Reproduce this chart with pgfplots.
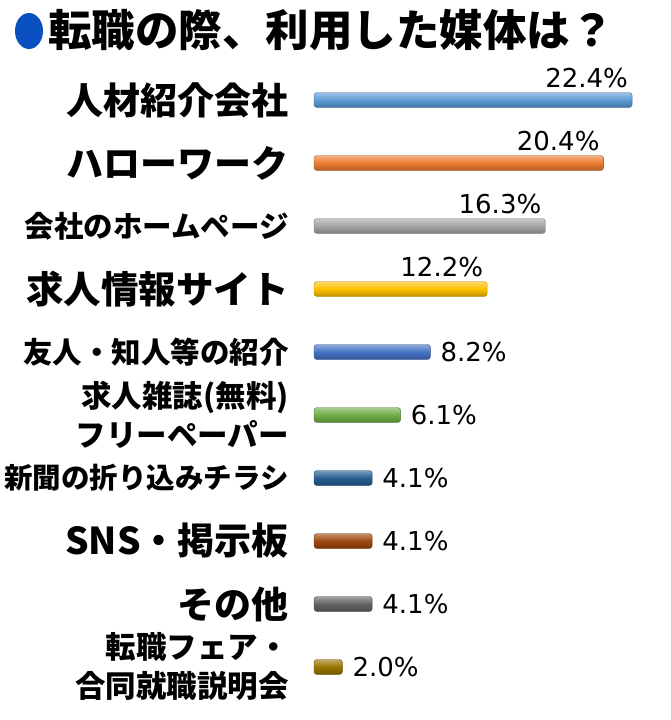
\documentclass[border=0pt]{standalone}
\usepackage{pgfplots}
\pgfplotsset{compat=1.18}
\usepackage{fontspec}
\setmainfont{Noto Sans CJK JP}
\newfontfamily\valfont{DejaVu Sans}
\definecolor{titleblue}{HTML}{0A50C0}
\definecolor{c1}{HTML}{5B9BD5}
\definecolor{c2}{HTML}{ED7D31}
\definecolor{c3}{HTML}{A5A5A5}
\definecolor{c4}{HTML}{FFC000}
\definecolor{c5}{HTML}{4472C4}
\definecolor{c6}{HTML}{70AD47}
\definecolor{c7}{HTML}{255E91}
\definecolor{c8}{HTML}{9E480E}
\definecolor{c9}{HTML}{636363}
\definecolor{c10}{HTML}{997300}
\newcommand\lf{\fontsize{30.5}{39}\selectfont}
\pgfplotsset{
  cyl/.style={draw=#1!70!black, line width=0.4pt, top color=#1!60!white, bottom color=#1!75!black, middle color=#1, rounded corners=3pt},
  lblabove/.style={every node near coord/.append style={anchor=base east, xshift=-4pt, yshift=13pt}},
  lblright/.style={every node near coord/.append style={anchor=base west, xshift=10pt, yshift=-9pt}},
}
\begin{document}
\begin{tikzpicture}
\useasboundingbox (0,0) rectangle (670pt,-720pt);
\fill[titleblue] (29pt,-31pt) ellipse [x radius=14pt, y radius=18pt];
\node[anchor=base west, inner sep=0pt, font=\bfseries\fontsize{43.5}{46}\selectfont] at (48pt,-46.5pt) {転職の際、利用した媒体は？};
\begin{axis}[
  at={(314pt,-698.5pt)}, anchor=south west,
  x=14.2pt, y=63pt, y dir=reverse,
  xmin=0, xmax=24, ymin=0.5, ymax=10.5,
  xbar, bar width=15pt, bar shift=0pt,
  clip=false, axis line style={draw=none}, major tick length=0pt,
  xtick=\empty, ytick={1,2,3,4,5,6,7,8,9,10},
  yticklabels={
    {\fontsize{37}{40}\selectfont 人材紹介会社},
    {\fontsize{37}{40}\selectfont ハローワーク},
    {\fontsize{29.5}{32}\selectfont 会社のホームページ},
    {\fontsize{37.5}{40}\selectfont 求人情報サイト},
    {\fontsize{29.5}{32}\selectfont 友人・知人等の紹介},
    {\lf 求人雑誌(無料)\\\lf フリーペーパー},
    {\fontsize{28.5}{32}\selectfont 新聞の折り込みチラシ},
    {\fontsize{37}{40}\selectfont SNS・掲示板},
    {\fontsize{37}{40}\selectfont その他},
    {\lf 転職フェア・\\\lf 合同就職説明会}
  },
  yticklabel style={anchor=east, align=right, inner sep=0pt, xshift=-25pt, font=\bfseries\lf},
  /pgf/number format/assume math mode=true,
  point meta=x,
  nodes near coords={\valfont\pgfmathprintnumber[fixed,fixed zerofill,precision=1]{\pgfplotspointmeta}\%},
  every node near coord/.append style={font=\fontsize{26}{28}\selectfont, inner sep=0pt, text=black},
]
\addplot[cyl=c1, lblabove] coordinates {(22.4,1)};
\addplot[cyl=c2, lblabove] coordinates {(20.4,2)};
\addplot[cyl=c3, lblabove] coordinates {(16.3,3)};
\addplot[cyl=c4, lblabove] coordinates {(12.2,4)};
\addplot[cyl=c5, lblright] coordinates {(8.2,5)};
\addplot[cyl=c6, lblright] coordinates {(6.1,6)};
\addplot[cyl=c7, lblright] coordinates {(4.1,7)};
\addplot[cyl=c8, lblright] coordinates {(4.1,8)};
\addplot[cyl=c9, lblright] coordinates {(4.1,9)};
\addplot[cyl=c10, lblright] coordinates {(2.0,10)};
\end{axis}
\end{tikzpicture}
\end{document}
